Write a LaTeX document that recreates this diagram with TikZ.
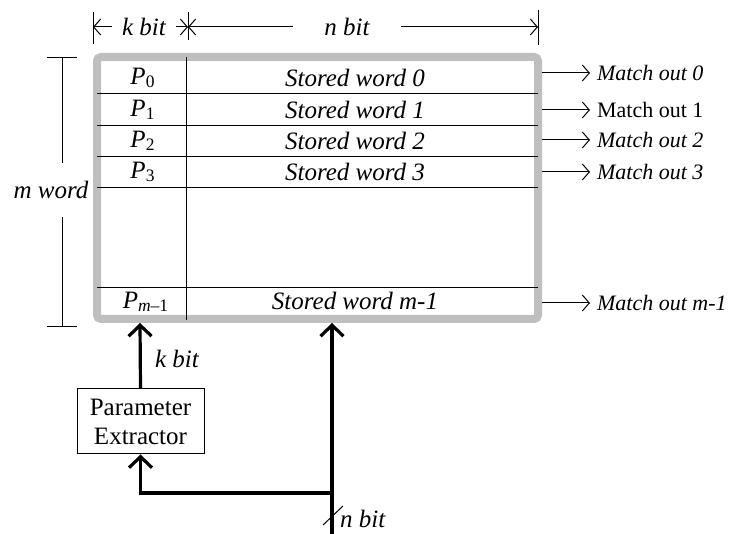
\documentclass[tikz,border=0pt]{standalone}
\usepackage{fontspec}
\setmainfont{Liberation Serif}
\usetikzlibrary{arrows.meta}

\tikzset{
  thinline/.style={line width=0.5pt},
  dim/.style={line width=0.5pt,-{Straight Barb[length=3.5pt,width=8pt]}},
  bus/.style={line width=1.6pt,-{Straight Barb[length=5.5pt,width=11.5pt]}},
  lbl/.style={font=\fontsize{12.5}{15}\selectfont\itshape},
  outlbl/.style={anchor=west},
}

\begin{document}
\begin{tikzpicture}[x=0.5pt,y=-0.5pt]
\useasboundingbox (0,0) rectangle (730,534);

% word width on top
\coordinate (t0) at (93,27);
\coordinate (t1) at (188,27);
\coordinate (t2) at (538,27);
\draw[thinline] (93,12) -- (93,44);
\draw[thinline] (188,12) -- (188,40);
\draw[thinline] (538,10) -- (538,45);
\node[lbl,inner xsep=5pt] (kbit) at (144,27) {k bit};
\node[lbl,inner xsep=15.5pt] (nbit) at (347,27) {n bit};
\draw[dim] (kbit) -- (t0);
\draw[dim] (kbit) -- (t1);
\draw[dim] (nbit) -- (t1);
\draw[dim] (nbit) -- (t2);

% number of words
\coordinate (w0) at (62,58);
\coordinate (w1) at (62,327);
\draw[thinline] (47,58) -- (77,58);
\draw[thinline] (47,327) -- (77,327);
\node[lbl,minimum height=27pt] (mw) at (51,190) {m word};
\draw[thinline] (w0) -- (w0 |- mw.north);
\draw[thinline] (w1) -- (w1 |- mw.south);

% memory array
\draw[black!25,line width=4pt,rounded corners=2pt] (97,57) rectangle (538,319);
\foreach \y in {94,126,157,188,288}
  \draw[thinline] (97,\y) -- (538,\y);
\draw[thinline] (186,57) -- (186,320);

\foreach \i/\y/\a/\f in {0/78/73/\itshape,1/110/110/\upshape,2/141/140/\itshape,3/172/172/\itshape}{
  \node[lbl] (p\i) at (143,\y) {P\textsubscript{\upshape\i}};
  \node[lbl] (sw\i) at (355,\y) {Stored word \i};
  \coordinate (r\i) at (542,\a);
  \node[outlbl,font={\fontsize{11}{13}\selectfont\f}] (mo\i) at (590,\a) {Match out \i};
  \draw[dim] (r\i) -- (mo\i.west);
}
\node[lbl] (pm) at (146,302) {P\textsubscript{m\upshape{}–1}};
\node[lbl] (swm) at (355,301) {Stored word m-1};
\coordinate (rm) at (542,303);
\node[outlbl,font={\fontsize{11}{13}\selectfont\itshape}] (mom) at (590,303) {Match out m-1};
\draw[dim] (rm) -- (mom.west);

% parameter extractor and input bus
\node[draw,thinline,minimum width=63.5pt,minimum height=32.5pt,align=center,
      font=\fontsize{12.5}{14.5}\selectfont] (pe) at (140.5,421.5) {Parameter\\Extractor};
\coordinate (pin) at (140,323);
\draw[bus] (pe.north) -- (pin);
\node[lbl,anchor=west] (kin) at (148,359) {k bit};

\coordinate (nin) at (332,534);
\coordinate (jn) at (332,493);
\coordinate (win) at (332,323);
\draw[bus] (nin) -- (win);
\draw[bus] (jn) -| (pe.south);
\draw[thinline] (323,525) -- (343,506);
\node[lbl,anchor=west] (nbus) at (333,519) {n bit};
\end{tikzpicture}
\end{document}
